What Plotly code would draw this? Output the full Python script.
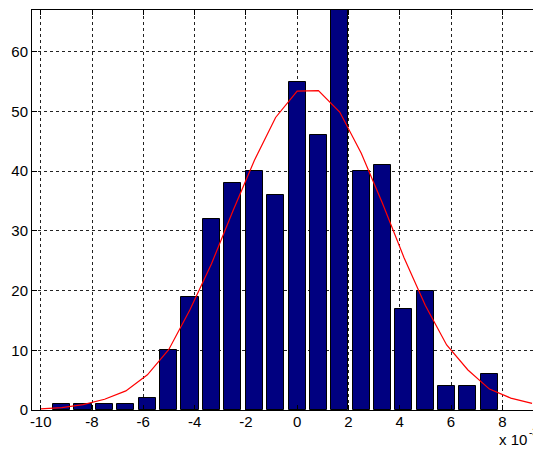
import plotly.graph_objects as go

# bin centers (x 10^-3)
bin_centers = [-9.18, -8.35, -7.51, -6.68, -5.84, -5.01, -4.18, -3.34, -2.51, -1.67,
               -0.84, 0.00, 0.83, 1.66, 2.50, 3.33, 4.16, 5.00, 5.83, 6.66, 7.50]
counts = [1, 1, 1, 1, 2, 10, 19, 32, 38, 40, 36, 55, 46, 67, 40, 41, 17, 20, 4, 4, 6]

# fitted curve points
fit_x = [-10.01, -9.18, -8.35, -7.51, -6.68, -5.84, -5.01, -4.18, -3.34, -2.51, -1.67,
         -0.84, 0.00, 0.83, 1.66, 2.50, 3.33, 4.16, 5.00, 5.83, 6.66, 7.50, 8.33, 9.16]
fit_y = [0.2, 0.4, 0.9, 1.8, 3.2, 5.9, 10.1, 16.8, 24.5, 33.3, 41.8,
         49.0, 53.4, 53.5, 49.9, 43.0, 34.6, 25.6, 17.5, 10.9, 6.7, 3.5, 2.0, 1.1]

x_ticks = [-10, -8, -6, -4, -2, 0, 2, 4, 6, 8]
x_tick_labels = ["-10", "-8", "-6", "-4", "-2", "0", "2", "4", "6", "8"]
y_ticks = [0, 10, 20, 30, 40, 50, 60]

FONT = "Liberation Sans, Arial, sans-serif"

fig = go.Figure()
fig.add_trace(go.Bar(
    x=bin_centers, y=counts, width=0.667,
    marker=dict(color="#000080", line=dict(color="#000000", width=1)),
    showlegend=False,
))
fig.add_trace(go.Scatter(
    x=fit_x, y=fit_y, mode="lines",
    line=dict(color="#ff0000", width=1.2),
    showlegend=False,
))

axis_common = dict(
    showline=True, linecolor="black", linewidth=1, mirror="ticks",
    ticks="inside", ticklen=5, tickcolor="black",
    showgrid=True, gridcolor="#222222", griddash="dot", gridwidth=1,
    zeroline=False, automargin=False,
    tickfont=dict(family=FONT, size=15, color="black"),
)

fig.update_xaxes(range=[-10.34, 9.47], tickvals=x_ticks, ticktext=x_tick_labels,
                 ticklabelstandoff=-2, **axis_common)
fig.update_yaxes(range=[0, 67], tickvals=y_ticks, **axis_common)

# exponent label split in two parts so nothing is clipped at the right edge
fig.add_annotation(
    xref="paper", yref="paper", x=1.0, y=-0.1, xanchor="right", yanchor="bottom",
    xshift=-11,
    text="x 10", showarrow=False,
    font=dict(family=FONT, size=15, color="black"),
)
fig.add_annotation(
    xref="paper", yref="paper", x=1.0, y=-0.1, xanchor="right", yanchor="bottom",
    xshift=0, yshift=10,
    text="-3", showarrow=False,
    font=dict(family=FONT, size=10, color="black"),
)

# the page body adds an 8px offset; the figure is sized to fit the window
fig.update_layout(
    width=533, height=451,
    margin=dict(l=24, r=1, t=2, b=49, autoexpand=False),
    plot_bgcolor="white", paper_bgcolor="white",
    bargap=0,
)

fig.write_html("out.html")
